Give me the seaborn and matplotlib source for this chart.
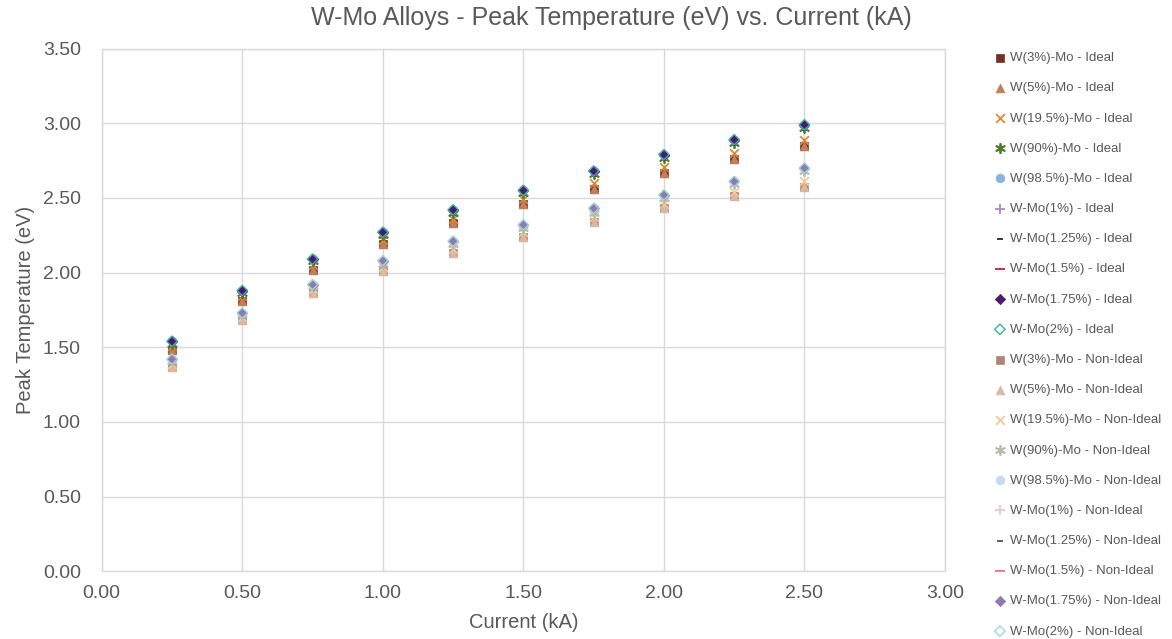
import matplotlib
matplotlib.use("Agg")
import matplotlib.pyplot as plt
import seaborn as sns
import pandas as pd

current = [0.25, 0.50, 0.75, 1.00, 1.25, 1.50, 1.75, 2.00, 2.25, 2.50]

series_names = [
    "W(3%)-Mo - Ideal", "W(5%)-Mo - Ideal", "W(19.5%)-Mo - Ideal", "W(90%)-Mo - Ideal",
    "W(98.5%)-Mo - Ideal", "W-Mo(1%) - Ideal", "W-Mo(1.25%) - Ideal", "W-Mo(1.5%) - Ideal",
    "W-Mo(1.75%) - Ideal", "W-Mo(2%) - Ideal",
    "W(3%)-Mo - Non-Ideal", "W(5%)-Mo - Non-Ideal", "W(19.5%)-Mo - Non-Ideal", "W(90%)-Mo - Non-Ideal",
    "W(98.5%)-Mo - Non-Ideal", "W-Mo(1%) - Non-Ideal", "W-Mo(1.25%) - Non-Ideal", "W-Mo(1.5%) - Non-Ideal",
    "W-Mo(1.75%) - Non-Ideal", "W-Mo(2%) - Non-Ideal",
]

# Ideal
w3_ideal    = [1.48, 1.81, 2.02, 2.19, 2.33, 2.46, 2.56, 2.67, 2.76, 2.85]
w5_ideal    = [1.48, 1.81, 2.02, 2.19, 2.33, 2.46, 2.56, 2.67, 2.76, 2.85]
w195_ideal  = [1.51, 1.84, 2.05, 2.22, 2.36, 2.49, 2.60, 2.71, 2.80, 2.89]
w90_ideal   = [1.52, 1.86, 2.08, 2.25, 2.40, 2.53, 2.66, 2.77, 2.87, 2.97]
w985_ideal  = [1.54, 1.88, 2.09, 2.27, 2.42, 2.55, 2.68, 2.79, 2.89, 2.99]
mo1_ideal   = [1.54, 1.88, 2.09, 2.27, 2.42, 2.55, 2.68, 2.79, 2.89, 2.99]
mo125_ideal = [1.54, 1.88, 2.09, 2.27, 2.42, 2.55, 2.68, 2.79, 2.89, 2.99]
mo15_ideal  = [1.54, 1.88, 2.09, 2.27, 2.42, 2.55, 2.68, 2.79, 2.89, 2.99]
mo175_ideal = [1.54, 1.88, 2.09, 2.27, 2.42, 2.55, 2.68, 2.79, 2.89, 2.99]
mo2_ideal   = [1.54, 1.88, 2.09, 2.27, 2.42, 2.55, 2.68, 2.79, 2.89, 2.99]

# Non-Ideal
w3_non    = [1.37, 1.68, 1.86, 2.01, 2.13, 2.24, 2.34, 2.43, 2.51, 2.57]
w5_non    = [1.37, 1.68, 1.86, 2.01, 2.13, 2.24, 2.34, 2.43, 2.51, 2.57]
w195_non  = [1.39, 1.70, 1.89, 2.04, 2.16, 2.27, 2.37, 2.46, 2.54, 2.61]
w90_non   = [1.41, 1.72, 1.91, 2.06, 2.19, 2.30, 2.40, 2.50, 2.59, 2.68]
w985_non  = [1.42, 1.73, 1.92, 2.08, 2.21, 2.32, 2.43, 2.52, 2.61, 2.70]
mo1_non   = [1.42, 1.73, 1.92, 2.08, 2.21, 2.32, 2.43, 2.52, 2.61, 2.70]
mo125_non = [1.42, 1.73, 1.92, 2.08, 2.21, 2.32, 2.43, 2.52, 2.61, 2.70]
mo15_non  = [1.42, 1.73, 1.92, 2.08, 2.21, 2.32, 2.43, 2.52, 2.61, 2.70]
mo175_non = [1.42, 1.73, 1.92, 2.08, 2.21, 2.32, 2.43, 2.52, 2.61, 2.70]
mo2_non   = [1.42, 1.73, 1.92, 2.08, 2.21, 2.32, 2.43, 2.52, 2.61, 2.70]

series_values = [
    w3_ideal, w5_ideal, w195_ideal, w90_ideal, w985_ideal,
    mo1_ideal, mo125_ideal, mo15_ideal, mo175_ideal, mo2_ideal,
    w3_non, w5_non, w195_non, w90_non, w985_non,
    mo1_non, mo125_non, mo15_non, mo175_non, mo2_non,
]

x_ticks = [0.00, 0.50, 1.00, 1.50, 2.00, 2.50, 3.00]
y_ticks = [0.00, 0.50, 1.00, 1.50, 2.00, 2.50, 3.00, 3.50]

# styles: (marker, color, size, filled)
asterisk = (6, 2, 0)
styles = [
    ("s", "#772E25", 38, True),
    ("^", "#C0805A", 40, True),
    ("x", "#DC8A35", 40, False),
    (asterisk, "#4F7A28", 45, False),
    ("o", "#8AB4E0", 40, True),
    ("+", "#A98BC9", 45, False),
    ("_", "#262626", 25, False),
    ("_", "#C5194A", 60, False),
    ("D", "#4B1A6B", 28, True),
    ("D", "#3FAFA8", 28, "open"),
    ("s", "#B08477", 38, True),
    ("^", "#D9B9A3", 40, True),
    ("x", "#F3C99C", 40, False),
    (asterisk, "#B6BFA6", 45, False),
    ("o", "#C5DBF0", 40, True),
    ("+", "#D8CCE6", 45, False),
    ("_", "#505050", 25, False),
    ("_", "#E0708F", 60, False),
    ("D", "#9079B3", 28, True),
    ("D", "#9FD8D3", 28, "open"),
]

sns.set_theme(style="white")
plt.rcParams["font.family"] = ["Liberation Sans", "DejaVu Sans"]

fig = plt.figure(figsize=(11.72, 6.39), dpi=100)
ax = fig.add_axes([0.0868, 0.106, 0.7195, 0.818])

text_color = "#595959"
grid_color = "#D9D9D9"

for name, vals, (mk, col, sz, filled) in zip(series_names, series_values, styles):
    df = pd.DataFrame({"Current": current, "Temp": vals})
    if filled == "open":
        sns.scatterplot(data=df, x="Current", y="Temp", ax=ax, marker=mk, s=sz,
                        facecolors="none", edgecolor=col, linewidth=1.0, label=name, zorder=3)
    elif filled:
        sns.scatterplot(data=df, x="Current", y="Temp", ax=ax, marker=mk, s=sz,
                        color=col, edgecolor=col, linewidth=0.5, label=name, zorder=3)
    else:
        sns.scatterplot(data=df, x="Current", y="Temp", ax=ax, marker=mk, s=sz,
                        color=col, linewidth=1.3, label=name, zorder=3)

ax.set_xlim(0, 3.0)
ax.set_ylim(0, 3.5)
ax.set_xticks(x_ticks)
ax.set_yticks(y_ticks)
ax.set_xticklabels([f"{t:.2f}" for t in x_ticks])
ax.set_yticklabels([f"{t:.2f}" for t in y_ticks])
ax.tick_params(axis="both", length=0, labelsize=14, colors=text_color)
ax.tick_params(axis="y", pad=15)
ax.tick_params(axis="x", pad=10)
ax.grid(True, color=grid_color, linewidth=1.0, zorder=0)
ax.set_axisbelow(True)
for sp in ax.spines.values():
    sp.set_color(grid_color)
    sp.set_linewidth(1.0)

ax.set_xlabel("Current (kA)", fontsize=14.5, color=text_color, labelpad=8)
ax.set_ylabel("Peak Temperature (eV)", fontsize=14.5, color=text_color, labelpad=6)
fig.text(611 / 1172, 1 - 18 / 639, "W-Mo Alloys - Peak Temperature (eV) vs. Current (kA)",
         fontsize=18, color=text_color, ha="center", va="center")

handles, labels = ax.get_legend_handles_labels()
ax.legend(handles, labels, loc="upper left", bbox_to_anchor=(0.843, 0.927),
          bbox_transform=fig.transFigure, frameon=False, fontsize=9.5,
          labelcolor=text_color, labelspacing=1.36, handletextpad=0.25,
          handlelength=1.0, borderaxespad=0, markerscale=1.0)

fig.savefig("out.png", dpi=100)
